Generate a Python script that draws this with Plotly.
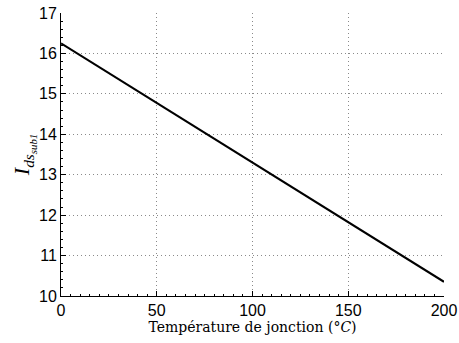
import plotly.graph_objects as go

# Junction temperature (°C) and current values
temperature = [0, 50, 100, 150, 200]
ids_sub1 = [16.25, 14.78, 13.30, 11.83, 10.35]

x_ticks = [0, 50, 100, 150, 200]
y_ticks = [10, 11, 12, 13, 14, 15, 16, 17]

fig = go.Figure(go.Scatter(
    x=temperature, y=ids_sub1, mode='lines',
    line={'color': 'black', 'width': 2.2},
    showlegend=False
))

axis_common = dict(
    showline=True, linecolor='black', linewidth=1, mirror=False,
    ticks='inside', ticklen=5, tickcolor='black',
    showgrid=True, gridcolor='#8a8a8a', griddash='1px,3px', gridwidth=1,
    zeroline=False, automargin=False,
    tickfont={'family': 'Liberation Sans, Arial', 'size': 16, 'color': 'black'},
)

fig.update_layout(
    width=459, height=343,
    margin={'l': 61, 'r': 15, 't': 13, 'b': 47},
    paper_bgcolor='white', plot_bgcolor='white',
    xaxis=dict(axis_common, range=[0, 200], tickvals=x_ticks,
               minor={'dtick': 5, 'ticks': 'inside', 'ticklen': 2, 'tickcolor': 'black', 'showgrid': False},
               title={'text': 'Température de jonction (°<i>C</i>)',
                      'font': {'family': 'DejaVu Serif, Liberation Serif', 'size': 14, 'color': 'black'},
                      'standoff': 0}),
    yaxis=dict(axis_common, range=[10, 17], tickvals=y_ticks,
               minor={'dtick': 0.2, 'ticks': 'inside', 'ticklen': 2, 'tickcolor': 'black', 'showgrid': False},
               title={'text': '<i>I</i><sub><i>ds</i><sub><i>sub1</i></sub></sub>',
                      'font': {'family': 'Liberation Serif, DejaVu Serif', 'size': 22, 'color': 'black'},
                      'standoff': 0}),
)

# drop the default page margin so the figure sits at the window's corner
fig.write_html("out.html", config={'displayModeBar': False},
               post_script="document.body.style.margin='0';")
